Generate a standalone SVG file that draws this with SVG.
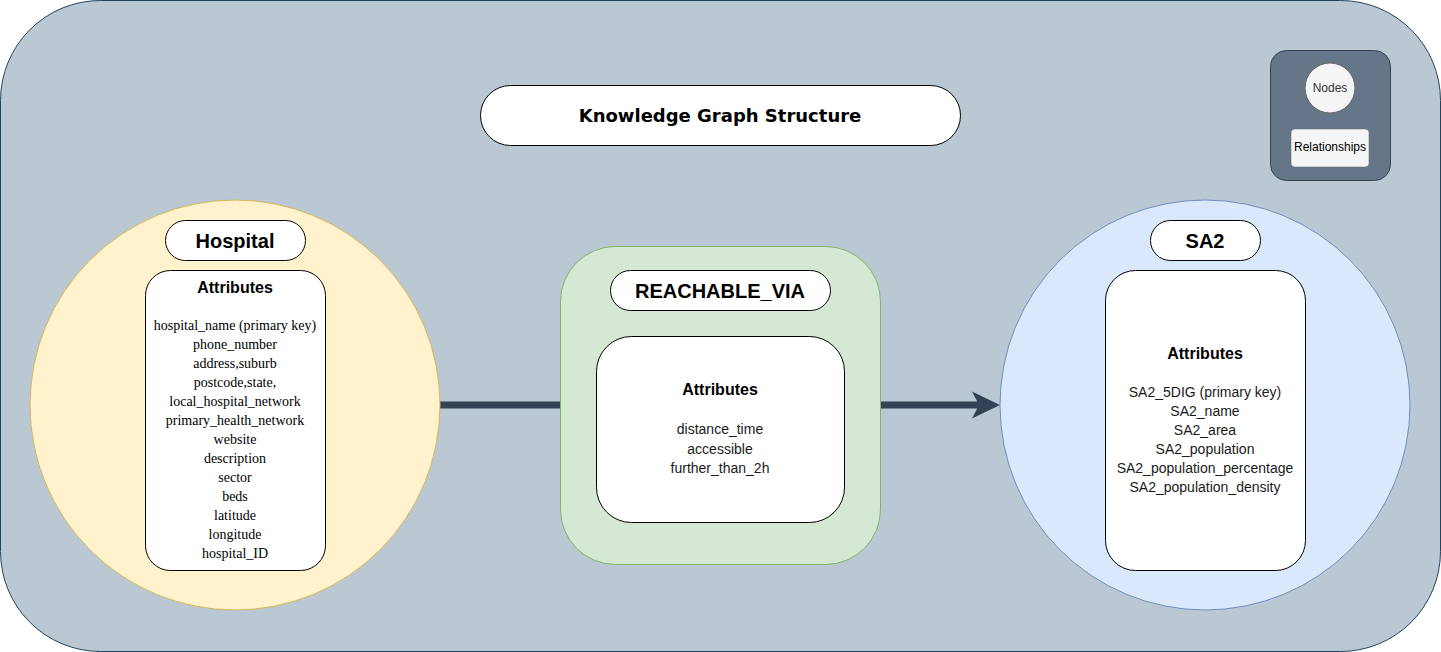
<svg xmlns="http://www.w3.org/2000/svg" width="1441" height="652" viewBox="0 0 1441 652">
<style>
.pill{fill:#ffffff;stroke:#000000;stroke-width:1}
.box{fill:#ffffff;stroke:#000000;stroke-width:1}
.hdr{font-family:"Liberation Sans",Arial,sans-serif;font-weight:bold;text-anchor:middle;fill:#000}
.ser{font-family:"Liberation Serif","Times New Roman",serif;font-size:14px;text-anchor:middle;fill:#000}
.san{font-family:"Liberation Sans",Arial,sans-serif;font-size:14px;text-anchor:middle;fill:#1a1a1a}
.conn{stroke:#314354;stroke-width:7;fill:none}
</style>
<g id="background">
<rect x="0.5" y="0.5" width="1440" height="651" rx="100" ry="100" fill="#bac8d3" stroke="#23445d" stroke-width="1"/>
</g>
<g id="title">
<rect class="pill" x="480.5" y="85.5" width="480" height="60" rx="30" ry="30"/>
<text x="720" y="121.5" font-family="'DejaVu Sans',Verdana,sans-serif" font-weight="bold" font-size="18" text-anchor="middle" fill="#000">Knowledge Graph Structure</text>
</g>
<g id="legend">
<rect x="1270.5" y="50.5" width="120" height="130" rx="16" ry="16" fill="#647687" stroke="#314354"/>
<circle cx="1330" cy="88" r="25" fill="#f5f5f5" stroke="#666666"/>
<text x="1330" y="92" font-family="'Liberation Sans',Arial,sans-serif" font-size="12" text-anchor="middle" fill="#333">Nodes</text>
<rect x="1291" y="129" width="78" height="38" rx="4" ry="4" fill="#f5f5f5" stroke="#666666" stroke-width="0.5"/>
<text x="1330" y="151" font-family="'Liberation Sans',Arial,sans-serif" font-size="12" text-anchor="middle" fill="#000">Relationships</text>
</g>
<g id="connectors">
<line class="conn" x1="440" y1="405" x2="560" y2="405"/>
<line class="conn" x1="880" y1="405" x2="980" y2="405"/>
<path d="M1000,405 L972,391.5 L979,405 L972,418.5 Z" fill="#314354"/>
</g>
<g id="hospital">
<circle cx="235" cy="405" r="205" fill="#fff2cc" stroke="#d6b656"/>
<rect class="pill" x="165.5" y="220.5" width="140" height="40" rx="20" ry="20"/>
<text class="hdr" x="235" y="248" font-size="20">Hospital</text>
<rect class="box" x="145.5" y="270.5" width="180" height="300" rx="25" ry="25"/>
<text class="hdr" x="235" y="293" font-size="16">Attributes</text>
<text class="ser" x="235" y="330">hospital_name (primary key)</text>
<text class="ser" x="235" y="349">phone_number</text>
<text class="ser" x="235" y="368">address,suburb</text>
<text class="ser" x="235" y="387">postcode,state,</text>
<text class="ser" x="235" y="406">local_hospital_network</text>
<text class="ser" x="235" y="425">primary_health_network</text>
<text class="ser" x="235" y="444">website</text>
<text class="ser" x="235" y="463">description</text>
<text class="ser" x="235" y="482">sector</text>
<text class="ser" x="235" y="501">beds</text>
<text class="ser" x="235" y="520">latitude</text>
<text class="ser" x="235" y="539">longitude</text>
<text class="ser" x="235" y="558">hospital_ID</text>
</g>
<g id="reachable_via">
<rect x="560.5" y="246.5" width="320" height="318" rx="55" ry="55" fill="#d5e8d4" stroke="#82b366"/>
<rect class="pill" x="610.5" y="270.5" width="220" height="40" rx="20" ry="20"/>
<text class="hdr" x="720" y="298" font-size="20">REACHABLE_VIA</text>
<rect class="box" x="596.5" y="336.5" width="248" height="186" rx="35" ry="35"/>
<text class="hdr" x="720" y="395" font-size="16">Attributes</text>
<text class="san" x="720" y="434">distance_time</text>
<text class="san" x="720" y="454">accessible</text>
<text class="san" x="720" y="473">further_than_2h</text>
</g>
<g id="sa2">
<circle cx="1205" cy="405" r="205" fill="#dae8fc" stroke="#6c8ebf"/>
<rect class="pill" x="1150.5" y="220.5" width="110" height="40" rx="20" ry="20"/>
<text class="hdr" x="1205" y="248" font-size="20">SA2</text>
<rect class="box" x="1105.5" y="270.5" width="200" height="300" rx="30" ry="30"/>
<text class="hdr" x="1205" y="359" font-size="16">Attributes</text>
<text class="san" x="1205" y="397">SA2_5DIG (primary key)</text>
<text class="san" x="1205" y="416">SA2_name</text>
<text class="san" x="1205" y="435">SA2_area</text>
<text class="san" x="1205" y="454">SA2_population</text>
<text class="san" x="1205" y="473">SA2_population_percentage</text>
<text class="san" x="1205" y="492">SA2_population_density</text>
</g>
</svg>
